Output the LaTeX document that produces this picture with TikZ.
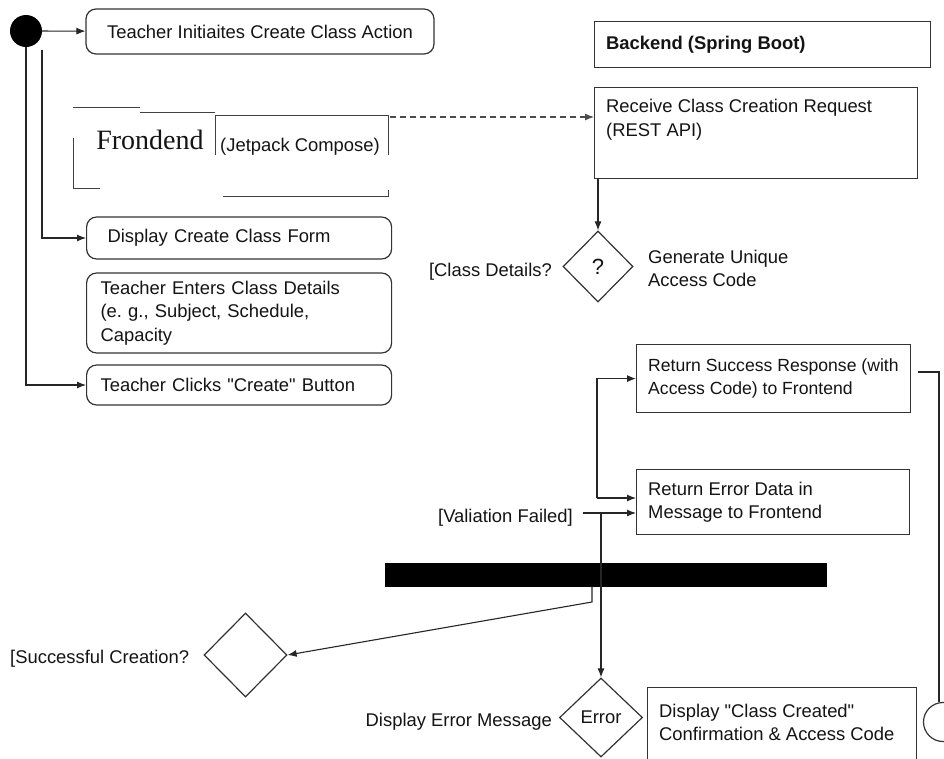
\documentclass[tikz,border=0pt]{standalone}
\usepackage{fontspec}
\setmainfont[Ligatures=TeXOff]{Liberation Sans}
\newfontfamily\frontserif{Liberation Serif}
\usetikzlibrary{shapes.geometric,arrows.meta}
\begin{document}
\frenchspacing
\begin{tikzpicture}[x=1pt,y=-1pt]
\tikzset{
  every node/.style={font=\fontsize{18.4pt}{23.5pt}\selectfont, text=black!92},
  ln/.style={draw=black!80, line width=1.2pt},
  act/.style={ln, rectangle, rounded corners=10pt, inner ysep=0pt, align=left},
  rbox/.style={ln, rectangle, inner sep=0pt},
  dia/.style={ln, diamond, inner sep=0pt, align=center},
  lab/.style={inner sep=0pt, align=left},
  arr/.style={draw=black!85, line width=1.1pt, -{Latex[length=9pt,width=7pt]}},
  dsh/.style={arr, draw=black!70, dash pattern=on 6pt off 4pt},
  frm/.style={draw=black!75, line width=1pt},
}
\useasboundingbox (0,0) rectangle (944,758);
\clip (0,0) rectangle (944,758);
\fill[white] (0,0) rectangle (944,758);

% start
\node[circle, fill=black, inner sep=0pt, minimum size=32pt] (start) at (26,31) {};

% frontend actions
\node[act, minimum width=348pt, minimum height=45pt] (a1) at (260,31.5) {Teacher Initiaites Create Class Action};
\node[act, anchor=west, inner xsep=21pt, text width=263pt, minimum height=42pt] (a2) at (86,238) {Display Create Class Form};
\node[act, anchor=west, inner xsep=14pt, text width=277pt, minimum height=80pt] (a3) at (86,313) {Teacher Enters Class Details\\(e. g., Subject, Schedule,\\Capacity};
\node[act, anchor=west, inner xsep=14pt, text width=277pt, minimum height=40pt] (a4) at (86,385) {Teacher Clicks "Create" Button};

% frontend partial frame
\draw[frm] (73,107) -- (140,107);
\draw[frm] (140,112) -- (215,112);
\draw[frm] (215,115) -- (388,115);
\draw[frm] (215,115) -- (215,155);
\draw[frm] (388,115) -- (388,155);
\draw[frm] (73,138) -- (73,188) -- (100,188);
\draw[frm] (223,196) -- (388,196) -- (388,190);
\node[inner sep=0pt, font=\frontserif\fontsize{28pt}{30pt}\selectfont] (fe) at (150,140) {Frondend};
\node[inner sep=0pt] (jc) at (300,147) {(Jetpack Compose)};

% backend
\node[rbox, anchor=north west, minimum width=336pt, minimum height=46pt] (be) at (594,21) {};
\node[lab, anchor=west, font=\fontsize{18.4pt}{23.5pt}\selectfont\bfseries] (bet) at ([xshift=12pt]be.west) {Backend (Spring Boot)};

\node[rbox, anchor=north west, minimum width=323pt, minimum height=91pt] (recv) at (594,87) {};
\node[lab, anchor=north west] (recvt) at (606,99) {Receive Class Creation Request\\(REST API)};

\node[dia, minimum width=70pt, minimum height=71pt, font=\fontsize{22pt}{24pt}\selectfont] (q) at (598,266.5) {?};
\node[lab, anchor=east] (cd) at (552,272) {[Class Details?};
\node[lab, anchor=west] (gen) at (648,268.5) {Generate Unique\\Access Code};

\node[rbox, anchor=north west, minimum width=274pt, minimum height=68pt] (succ) at (636,344) {};
\node[lab, anchor=west, font=\fontsize{17.6pt}{23.5pt}\selectfont] (succt) at ([xshift=12pt]succ.west) {Return Success Response (with\\Access Code) to Frontend};

\node[rbox, anchor=north west, minimum width=273pt, minimum height=65pt] (err) at (636,469) {};
\node[lab, anchor=west] (errt) at ([xshift=12pt]err.west) {Return Error Data in\\Message to Frontend};

\node[lab, anchor=east] (vf) at (573,518) {[Valiation Failed]};

\node[fill=black, inner sep=0pt, minimum width=442pt, minimum height=24pt] (bar) at (606,575) {};

\node[dia, minimum width=83pt, minimum height=84pt] (sdia) at (245.5,655) {};
\node[lab, anchor=west] (sc) at (10,659) {[Successful Creation?};

\node[dia, minimum width=83pt, minimum height=79pt] (edia) at (601,717.5) {Error};
\node[lab, anchor=east] (dem) at (552,722) {Display Error Message};

\node[rbox, anchor=north west, minimum width=269pt, minimum height=75pt] (disp) at (647,687) {};
\node[lab, anchor=west] (dispt) at (659,722.5) {Display "Class Created"\\Confirmation \& Access Code};

\node[circle, ln, inner sep=0pt, minimum size=39pt] (endc) at (943,722) {};

% connectors
\draw[arr] (start) -- (a1);
\draw[arr] (start.south) |- (a4.west);
\coordinate (s2) at (42,50);
\draw[arr] (s2) |- (a2.west);

\coordinate (fr) at (390,117);
\draw[dsh] (fr) -- (fr -| recv.west);

\draw[arr] (q.north |- recv.south) -- (q.north);

\coordinate (v1) at (597,498);
\draw[arr] (v1) |- (succ.west);
\draw[arr] (v1) -- (v1 -| err.west);

\coordinate (v2) at (583,513);
\draw[arr] (v2) -- (v2 -| err.west);
\coordinate (v3) at (601,513);
\draw[arr] (v3) -- (edia.north);

\coordinate (b1) at (592,587);
\draw[arr] (b1) -- ++(0,15) -- (sdia.east);

\coordinate (c1) at (918,372);
\coordinate (c2) at (939,372);
\draw[draw=black!85, line width=1.1pt] (c1) -- (c2) -- (c2 |- endc.north);
\end{tikzpicture}
\end{document}
